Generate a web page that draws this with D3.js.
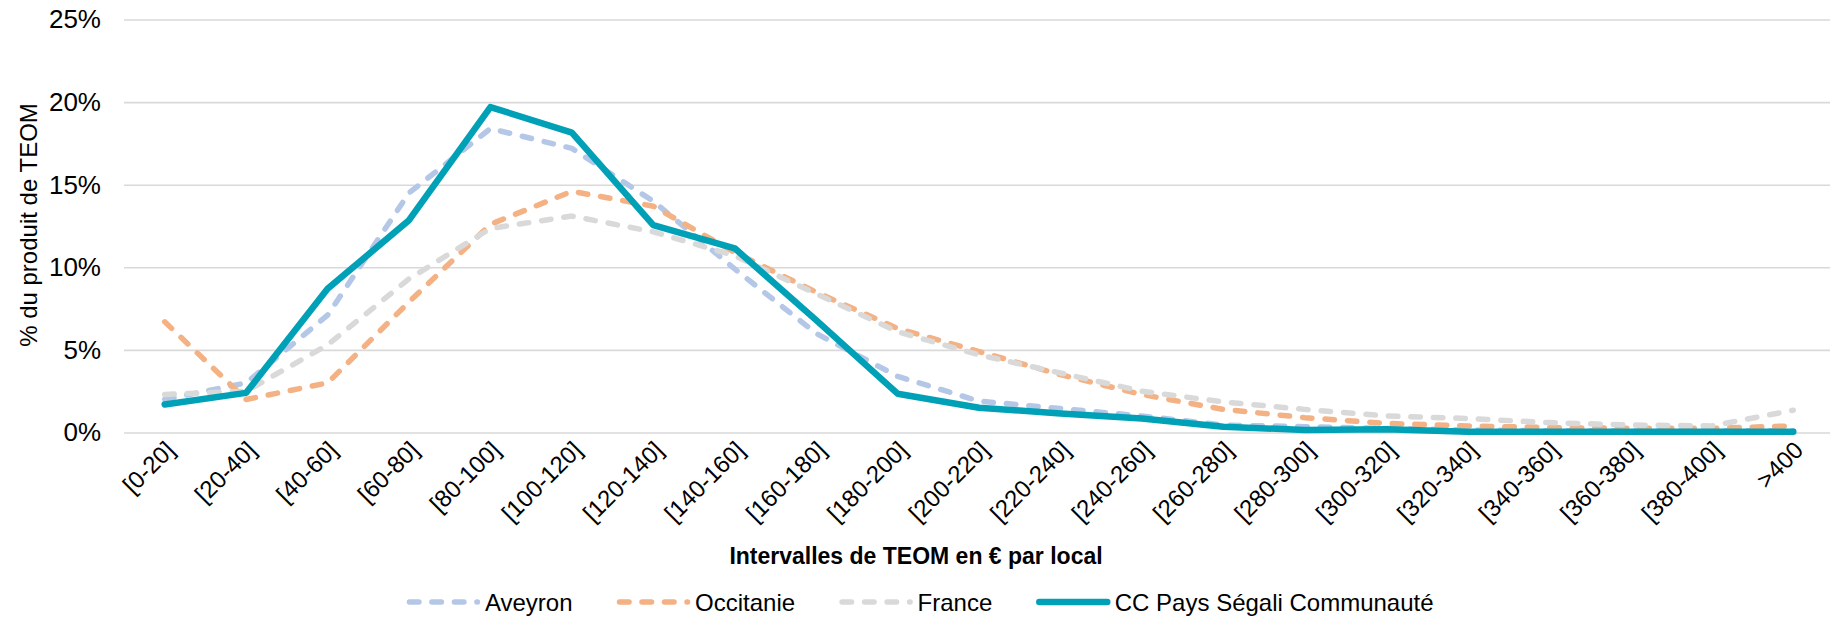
<!DOCTYPE html>
<html>
<head>
<meta charset="utf-8">
<script src="https://cdn.jsdelivr.net/npm/d3@7"></script>
<style>
	body { margin: 0; background: #fff; }
	svg { display: block; font-family: "Liberation Sans", Arial, sans-serif; }
</style>
</head>
<body>
<svg id="Canvas" width="1830" height="619"></svg>
<script>
// intervals of TEOM per local (x categories)
var categories = ["[0-20]", "[20-40]", "[40-60]", "[60-80]", "[80-100]", "[100-120]", "[120-140]",
	"[140-160]", "[160-180]", "[180-200]", "[200-220]", "[220-240]", "[240-260]", "[260-280]",
	"[280-300]", "[300-320]", "[320-340]", "[340-360]", "[360-380]", "[380-400]", ">400"];

// % du produit de TEOM
var aveyron = [2.0, 3.0, 7.1, 14.5, 18.4, 17.2, 14.0, 9.9, 6.0, 3.4, 1.9, 1.45, 1.0, 0.45, 0.35, 0.25, 0.15, 0.1, 0.1, 0.1, 0.1];
var occitanie = [6.7, 2.0, 3.0, 7.9, 12.6, 14.6, 13.7, 10.9, 8.5, 6.3, 4.9, 3.5, 2.3, 1.4, 0.9, 0.55, 0.4, 0.3, 0.25, 0.25, 0.4];
var france = [2.3, 2.5, 5.3, 9.3, 12.35, 13.1, 12.15, 10.7, 8.4, 6.1, 4.7, 3.6, 2.5, 1.85, 1.4, 1.0, 0.85, 0.6, 0.45, 0.4, 1.35];
var segali = [1.7, 2.4, 8.7, 12.85, 19.7, 18.15, 12.55, 11.15, 6.8, 2.35, 1.5, 1.15, 0.85, 0.35, 0.15, 0.2, 0.05, 0.05, 0.05, 0.05, 0.05];

var yTicks = [0, 5, 10, 15, 20, 25];
var seriesNames = ["Aveyron", "Occitanie", "France", "CC Pays Ségali Communauté"];

var svg = d3.select("#Canvas"),
	left = 124,
	right = 1834,
	top0 = 19.5,
	bottom = 432.5;

var series = [
	{ name: seriesNames[0], values: aveyron, color: "#b4c7e7", width: 5.5, dash: "9.5 13" },
	{ name: seriesNames[1], values: occitanie, color: "#f4b183", width: 5.5, dash: "9.5 13" },
	{ name: seriesNames[2], values: france, color: "#d9d9d9", width: 5.5, dash: "9.5 13" },
	{ name: seriesNames[3], values: segali, color: "#00a0b6", width: 6.5, dash: null }
];

var x = d3.scalePoint().domain(categories).range([left, right]).padding(0.5);
var y = d3.scaleLinear().domain([0, 25]).range([bottom, top0]);

Init();

function Init(){
	svg.append("rect").attr("width", 1830).attr("height", 619).attr("fill", "#fff");
	DrawGrid();
	DrawXAxis();
	DrawLines();
	DrawTitles();
	DrawLegend();
}

/*
 * gridlines + y tick labels
 */
function DrawGrid(){
	var g = svg.append("g")
		.attr("transform", "translate(" + left + ",0)")
		.call(d3.axisLeft(y)
			.tickValues(yTicks)
			.tickSize(-(right - left))
			.tickPadding(23)
			.tickFormat(function(d){ return d + "%"; }));
	g.select(".domain").remove();
	g.selectAll(".tick line").attr("stroke", "#d9d9d9").attr("stroke-width", 1.6);
	g.selectAll(".tick text")
		.attr("fill", "#000")
		.style("font-size", "26px")
		.style("font-family", "\"Liberation Sans\", Arial, sans-serif");
}

function DrawXAxis(){
	var g = svg.append("g")
		.attr("transform", "translate(0," + bottom + ")")
		.call(d3.axisBottom(x).tickSize(0));
	g.select(".domain").remove();
	g.selectAll(".tick text")
		.attr("x", 0)
		.attr("y", 0)
		.attr("dy", 0)
		.attr("text-anchor", "end")
		.attr("transform", "translate(11,19) rotate(-45)")
		.attr("fill", "#000")
		.style("font-size", "24px")
		.style("font-family", "\"Liberation Sans\", Arial, sans-serif");
}

function DrawLines(){
	var line = d3.line()
		.x(function(d, i){ return x(categories[i]); })
		.y(function(d){ return y(d); });

	svg.append("g").selectAll("path.serie")
		.data(series)
		.enter()
		.append("path")
		.classed("serie", true)
		.attr("d", function(d){ return line(d.values); })
		.attr("fill", "none")
		.attr("stroke", function(d){ return d.color; })
		.attr("stroke-width", function(d){ return d.width; })
		.attr("stroke-dasharray", function(d){ return d.dash; })
		.attr("stroke-linecap", "round")
		.attr("stroke-linejoin", "round");
}

function DrawTitles(){
	svg.append("text")
		.attr("transform", "translate(28,225) rotate(-90)")
		.attr("text-anchor", "middle")
		.attr("dominant-baseline", "central")
		.style("font-size", "24px")
		.text("% du produit de TEOM");

	svg.append("text")
		.attr("x", 916)
		.attr("y", 556)
		.attr("text-anchor", "middle")
		.attr("dominant-baseline", "central")
		.style("font-size", "23px")
		.style("font-weight", "bold")
		.text("Intervalles de TEOM en € par local");
}

/*
 * legend, centered below the axis title
 */
function DrawLegend(){
	var legend = svg.append("g"),
		ly = 602,
		sample = 68,
		pos = 0;

	series.forEach(function(s){
		var item = legend.append("g").attr("transform", "translate(" + pos + ",0)");
		item.append("line")
			.attr("x1", 0).attr("x2", sample)
			.attr("y1", ly).attr("y2", ly)
			.attr("stroke", s.color)
			.attr("stroke-width", s.width)
			.attr("stroke-dasharray", s.dash)
			.attr("stroke-linecap", "round");
		var t = item.append("text")
			.attr("x", sample + 7.5)
			.attr("y", ly)
			.attr("dominant-baseline", "central")
			.style("font-size", "24px")
			.text(s.name);
		pos += sample + 7.5 + t.node().getComputedTextLength() + 47;
	});
	var total = pos - 47;
	legend.attr("transform", "translate(" + (921.5 - total / 2) + ",0)");
}
</script>
</body>
</html>
